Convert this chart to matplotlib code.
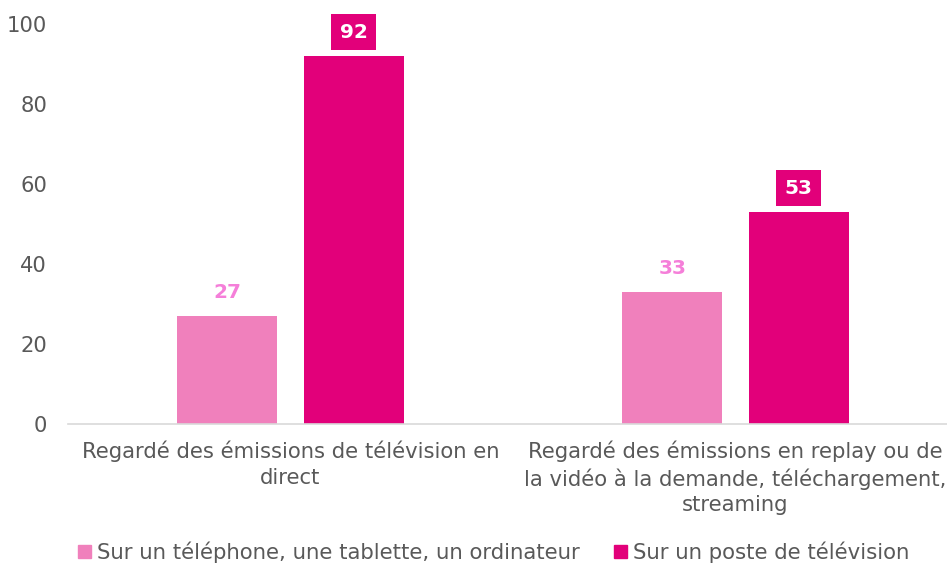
import numpy as np
import matplotlib.pyplot as plt
from matplotlib.patches import Patch

categories = ['Regardé des émissions de télévision en\ndirect',
              'Regardé des émissions en replay ou de\nla vidéo à la demande, téléchargement,\nstreaming']
series_names = ['Sur un téléphone, une tablette, un ordinateur', 'Sur un poste de télévision']
mobile_vals = [27, 33]
tv_vals = [92, 53]

light = '#F080BC'
dark = '#E2007A'
label_light = '#F57FD9'
grey = '#595959'

plt.rcParams['font.family'] = 'DejaVu Sans'
fs = 15.2

fig = plt.figure(figsize=(9.47, 5.64), dpi=100)
ax = fig.add_axes([68 / 947, 140 / 564, 890 / 947, 400 / 564])

x = np.arange(len(categories))
w = 0.225
off = 0.142
b1 = ax.bar(x - off, mobile_vals, w, color=light)
b2 = ax.bar(x + off, tv_vals, w, color=dark)

# value labels: light series plain, dark series in a filled box
for rect, v in zip(b1, mobile_vals):
    ax.annotate(str(v), (rect.get_x() + rect.get_width() / 2, v), xytext=(0, 17),
                textcoords='offset points', ha='center', va='center',
                fontsize=14.5, fontweight='bold', color=label_light)
for rect, v in zip(b2, tv_vals):
    ax.annotate(str(v), (rect.get_x() + rect.get_width() / 2, v), xytext=(0, 17),
                textcoords='offset points', ha='center', va='center',
                fontsize=14.5, fontweight='bold', color='white',
                bbox=dict(boxstyle='square,pad=0.42', fc=dark, ec='none'))

ax.set_xlim(-0.5, 1.5)
ax.set_ylim(0, 100)
ax.set_yticks(range(0, 101, 20))
ax.set_xticks(x)
ax.set_xticklabels(categories, fontsize=fs, color=grey, linespacing=1.35)
ax.tick_params(axis='y', length=0, pad=15, labelsize=fs, labelcolor=grey)
ax.tick_params(axis='x', length=0, pad=12)
for s in ['top', 'right', 'left']:
    ax.spines[s].set_visible(False)
ax.spines['bottom'].set_color('#D9D9D9')
ax.spines['bottom'].set_linewidth(1.2)

handles = [Patch(color=light), Patch(color=dark)]
fig.legend(handles, series_names, loc='lower center', bbox_to_anchor=(494 / 947, -0.032),
           ncol=2, frameon=False, fontsize=15.3, handlelength=0.6, handleheight=0.6,
           handletextpad=0.3, columnspacing=1.6, labelcolor=grey)

plt.savefig('out.png', dpi=100)
